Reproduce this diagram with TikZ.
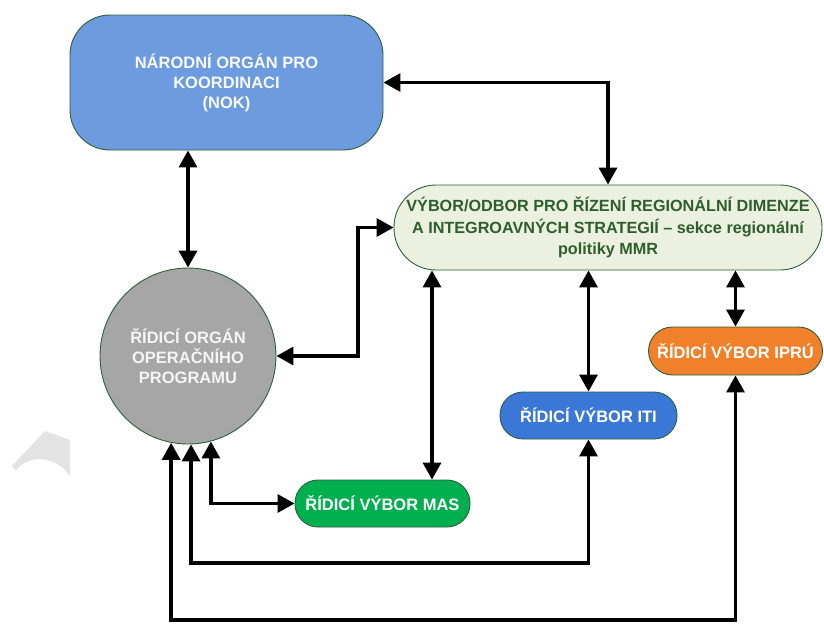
\documentclass[tikz,border=0pt]{standalone}
\usepackage{fontspec}
\setmainfont{Liberation Sans}
\usetikzlibrary{arrows.meta,calc}
\definecolor{nokblue}{HTML}{6D9BE0}
\definecolor{circgray}{HTML}{A6A6A6}
\definecolor{vybfill}{HTML}{EBF1DE}
\definecolor{vybtext}{HTML}{2E5E2E}
\definecolor{edgegreen}{HTML}{2F5E3A}
\definecolor{masgreen}{HTML}{00B050}
\definecolor{itiblue}{HTML}{3A78D8}
\definecolor{ipruorange}{HTML}{F0812A}
\tikzset{
  boxbase/.style={draw=edgegreen, line width=0.9pt, align=center, inner sep=0pt,
    font=\fontsize{16.5}{20}\selectfont\bfseries},
  pill/.style={boxbase, rounded corners=23pt, minimum height=47pt, text=white},
  conn/.style={line width=3.4pt, {Triangle[length=17pt,width=18pt]}-{Triangle[length=17pt,width=18pt]}}
}
\begin{document}
\begin{tikzpicture}[x=1pt,y=-1pt]
\useasboundingbox (0,0) rectangle (824,624);
% watermark fragment
\fill[gray!22] (12,466) -- (45,431) -- (70,440) -- (70,476) .. controls (58,458) and (32,452) .. (16,470) -- cycle;

\node[boxbase, fill=nokblue, text=white!95!nokblue, rounded corners=40pt,
  minimum width=313pt, minimum height=135pt] (nok) at (226.5,82.5)
  {NÁRODNÍ ORGÁN PRO\\KOORDINACI\\(NOK)};

\node[boxbase, fill=vybfill, text=vybtext, rounded corners=42pt,
  minimum width=428pt, minimum height=85pt,
  font=\fontsize{16.2}{21.5}\selectfont\bfseries] (vyb) at (608,227.5)
  {VÝBOR/ODBOR PRO ŘÍZENÍ REGIONÁLNÍ DIMENZE\\A INTEGROAVNÝCH STRATEGIÍ – sekce regionální\\politiky MMR};

\node[boxbase, circle, fill=circgray, text=white!92!gray, minimum size=176pt] (ro) at (188,356)
  {ŘÍDICÍ ORGÁN\\OPERAČNÍHO\\PROGRAMU};

\node[pill, fill=masgreen, minimum width=175pt] (mas) at (382.5,503.5) {ŘÍDICÍ VÝBOR MAS};
\node[pill, fill=itiblue, minimum width=177pt] (iti) at (588.5,415.5) {ŘÍDICÍ VÝBOR ITI};
\node[pill, fill=ipruorange, minimum width=174pt, minimum height=48pt, rounded corners=24pt] (ipru) at (735.5,351) {ŘÍDICÍ VÝBOR IPRÚ};

\coordinate (jx) at (358,0);
\coordinate (mx) at (432,0);
\coordinate (b1) at (0,563);
\coordinate (b2) at (0,620);

\draw[conn] (nok.south -| ro.north) -- (ro.north);
\draw[conn] (nok.east) -| (vyb.north);
\draw[conn] (ro.east) -- (ro.east -| jx) |- (vyb.west);
\draw[conn] (vyb.south -| mx) -- (mas.north -| mx);
\draw[conn] (vyb.south -| iti.north) -- (iti.north);
\draw[conn] (vyb.south -| ipru.north) -- (ipru.north);
\draw[conn] (mas.west) -| (ro.-75.5);
\draw[conn] (iti.south) |- (b1 -| ro.-88.7) -- (ro.-88.7);
\draw[conn] (ipru.south) |- (b2 -| ro.-101.8) -- (ro.-101.8);
\end{tikzpicture}
\end{document}
